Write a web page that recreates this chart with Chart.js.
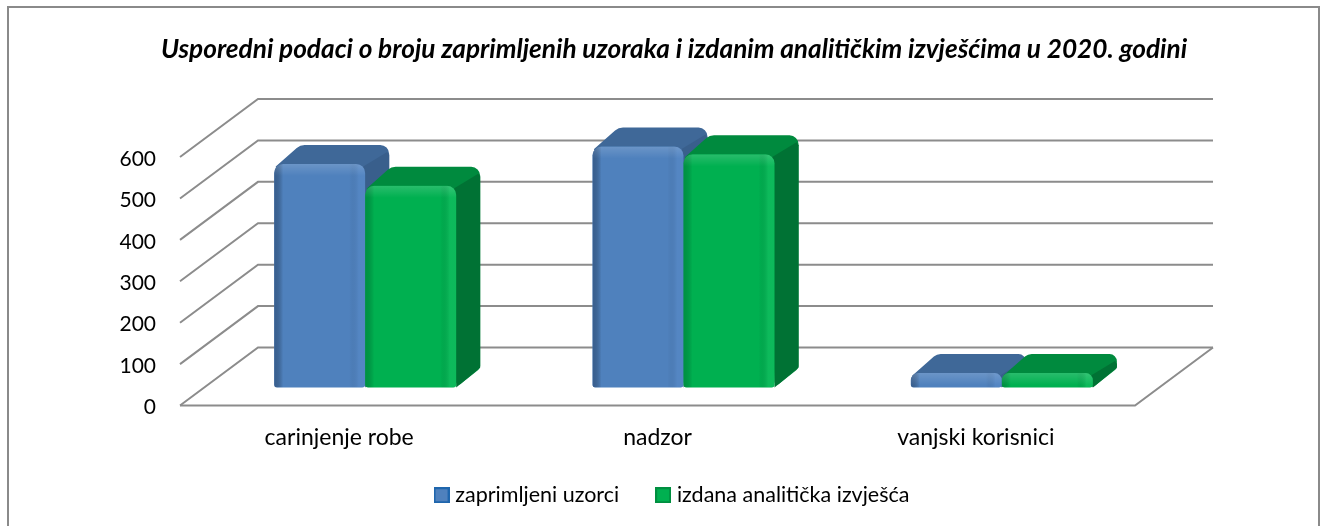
<!DOCTYPE html>
<html lang="hr">
<head>
<meta charset="utf-8">
<title>Usporedni podaci</title>
<script src="https://cdn.jsdelivr.net/npm/chart.js@4/dist/chart.umd.min.js"></script>
<style>
html,body{margin:0;padding:0;background:#fff;overflow:hidden;width:1328px;height:526px}
#frame{position:absolute;left:7px;top:6px;width:1313px;height:600px;border:2px solid #8a8a8a;box-sizing:border-box}
#wrap{position:absolute;left:0;top:0;width:1328px;height:526px;overflow:hidden}
</style>
</head>
<body>
<div id="frame"></div>
<div id="wrap"><canvas id="c" width="1328" height="516"></canvas></div>
<script>
const titleText = 'Usporedni podaci o broju zaprimljenih uzoraka i izdanim analitičkim izvješćima u 2020. godini';
const categories = ['carinjenje robe', 'nadzor', 'vanjski korisnici'];
const seriesNames = ['zaprimljeni uzorci', 'izdana analitička izvješća'];
const received = [540, 582, 35];
const issued = [487, 563, 35];
const yMax = 600;
const yStep = 100;

const FONT = 'Lato, sans-serif';
const GRID = '#8c8c8c';
const WALL = {dx: 78, dy: -58};
const BAR_SHIFT = {dx: 26, dy: -18};
const DEPTH = {dx: 24, dy: -19};
const SKINS = [
  {front: '#4f81bd', top: '#3f6898', side: '#395f8c', edgeL: 'rgba(40,70,110,.55)', edgeR: 'rgba(110,160,225,.16)', box: '#1f66ad'},
  {front: '#00b050', top: '#008a3e', side: '#007234', edgeL: 'rgba(0,90,40,.35)', edgeR: 'rgba(60,220,130,.22)', box: '#008f40'}
];

function legendBox(skin) {
  const c = document.createElement('canvas');
  c.width = 16; c.height = 16;
  const x = c.getContext('2d');
  x.fillStyle = skin.box; x.fillRect(0, 0, 16, 16);
  x.fillStyle = skin.front; x.fillRect(2, 2, 12, 12);
  return c;
}

// pts: [x, y, cornerRadius]
function poly(ctx, pts) {
  const n = pts.length;
  const a = pts[n - 1], b = pts[0];
  ctx.beginPath();
  ctx.moveTo((a[0] + b[0]) / 2, (a[1] + b[1]) / 2);
  for (let i = 0; i < n; i++) {
    const p = pts[i], q = pts[(i + 1) % n];
    ctx.arcTo(p[0], p[1], q[0], q[1], p[2]);
  }
  ctx.closePath();
}

function drawExtrusion(ctx, meta, skin) {
  meta.data.forEach(el => {
    const x1 = el.x - el.width / 2, x2 = el.x + el.width / 2;
    const t = el.y, b = el.base;
    const dx = DEPTH.dx, dy = DEPTH.dy;
    const rad = Math.min(9, (b - t) / 2);
    ctx.fillStyle = skin.top;
    poly(ctx, [[x1, t + 4, 1], [x1 + dx + 2, t + dy, rad + 3], [x2 + dx, t + dy, rad], [x2 + dx, b + dy, rad * .6], [x2, b, 3], [x2 - 6, t + 6, 1]]);
    ctx.fill();
    ctx.fillStyle = skin.side;
    ctx.beginPath();
    ctx.moveTo(x2 - 6, t + 5);
    ctx.lineTo(x2 + dx - 2, t + dy + 7);
    ctx.lineTo(x2 + dx, t + dy + 10);
    ctx.lineTo(x2 + dx, Math.max(b + dy - 1, t + dy + 10));
    ctx.lineTo(x2, b);
    ctx.closePath();
    ctx.fill();
  });
}

function drawShading(ctx, meta, skin) {
  meta.data.forEach(el => {
    const x1 = el.x - el.width / 2, x2 = el.x + el.width / 2;
    const t = el.y, b = el.base, h = b - t;
    const rad = Math.min(9, h / 2);
    ctx.save();
    ctx.beginPath();
    ctx.roundRect(x1, t, x2 - x1, h, [rad, rad, 3, 3]);
    ctx.clip();
    let g = ctx.createLinearGradient(x1, 0, x1 + 9, 0);
    g.addColorStop(0, skin.edgeL); g.addColorStop(1, 'rgba(0,0,0,0)');
    ctx.fillStyle = g; ctx.fillRect(x1, t, 9, h);
    g = ctx.createLinearGradient(x2 - 16, 0, x2, 0);
    g.addColorStop(0, 'rgba(0,0,0,0)'); g.addColorStop(.6, skin.edgeR); g.addColorStop(1, skin.edgeR);
    ctx.fillStyle = g; ctx.fillRect(x2 - 16, t, 16, h);
    g = ctx.createLinearGradient(0, t, 0, t + 12);
    g.addColorStop(0, 'rgba(255,255,255,.16)'); g.addColorStop(1, 'rgba(255,255,255,0)');
    ctx.fillStyle = g; ctx.fillRect(x1, t, x2 - x1, Math.min(12, h));
    ctx.restore();
  });
}

const depthPlugin = {
  id: 'depth',
  beforeDraw(chart) {
    const y = chart.scales.y, x = chart.scales.x;
    // The x labels reach below the axis box; do not clip them to it.
    x._computeLabelArea = () => undefined;
    // The y tick labels sit slightly below their grid lines in the reference.
    if (y._shifted) return;
    y._shifted = true;
    const orig = y.drawLabels;
    y.drawLabels = function (area) {
      this.ctx.save();
      this.ctx.translate(0, 2);
      orig.call(this, area);
      this.ctx.restore();
    };
  },
  beforeDatasetsDraw(chart) {
    const {ctx} = chart;
    const x = chart.scales.x, y = chart.scales.y;
    const l = x.left, r = x.right;
    ctx.save();
    ctx.strokeStyle = GRID;
    ctx.lineWidth = 2;
    y.ticks.forEach(t => {
      const py = y.getPixelForValue(t.value);
      ctx.beginPath();
      ctx.moveTo(l, py);
      ctx.lineTo(l + WALL.dx, py + WALL.dy);
      ctx.lineTo(r + WALL.dx, py + WALL.dy);
      ctx.stroke();
    });
    const p0 = y.getPixelForValue(0);
    ctx.beginPath();
    ctx.moveTo(l, p0);
    ctx.lineTo(r, p0);
    ctx.lineTo(r + WALL.dx, p0 + WALL.dy);
    ctx.stroke();
    ctx.restore();
  },
  // Series must be stacked blue first, green over it, so the library's
  // draw loop is replaced by one pass over both datasets here.
  beforeDatasetDraw(chart, args) {
    if (args.index !== 0) return false;
    const {ctx} = chart;
    ctx.save();
    ctx.translate(BAR_SHIFT.dx, BAR_SHIFT.dy);
    drawExtrusion(ctx, args.meta, SKINS[0]);
  },
  afterDatasetDraw(chart, args) {
    const {ctx} = chart;
    drawShading(ctx, args.meta, SKINS[0]);
    const m = chart.getDatasetMeta(1);
    drawExtrusion(ctx, m, SKINS[1]);
    m.controller.draw();
    drawShading(ctx, m, SKINS[1]);
    ctx.restore();
  }
};

new Chart(document.getElementById('c'), {
  type: 'bar',
  plugins: [depthPlugin],
  data: {
    labels: categories,
    datasets: [
      {label: seriesNames[0], data: received, backgroundColor: SKINS[0].front, borderWidth: 0, clip: false,
       borderRadius: {topLeft: 9, topRight: 9, bottomLeft: 3, bottomRight: 3}, borderSkipped: false},
      {label: seriesNames[1], data: issued, backgroundColor: SKINS[1].front, borderWidth: 0, clip: false,
       borderRadius: {topLeft: 9, topRight: 9, bottomLeft: 3, bottomRight: 3}, borderSkipped: false}
    ]
  },
  options: {
    responsive: false,
    animation: false,
    categoryPercentage: 0.572,
    barPercentage: 1,
    layout: {padding: {left: 20, right: 0, top: 0, bottom: 0}},
    plugins: {
      tooltip: {enabled: false},
      title: {
        display: true,
        text: titleText,
        color: '#000',
        font: {family: FONT, size: 26.2, weight: 'bold', style: 'italic', lineHeight: 1.2},
        padding: {top: 34, bottom: 91.6}
      },
      legend: {
        position: 'bottom',
        labels: {
          color: '#000',
          font: {family: FONT, size: 21.5},
          padding: 41,
          usePointStyle: true,
          pointStyleWidth: 6,
          boxHeight: 16,
          generateLabels(chart) {
            return chart.data.datasets.map((d, i) => ({
              text: d.label,
              datasetIndex: i,
              fontColor: '#000',
              pointStyle: legendBox(SKINS[i]),
              fillStyle: SKINS[i].front,
              strokeStyle: SKINS[i].box,
              lineWidth: 0
            }));
          }
        }
      }
    },
    scales: {
      x: {
        type: 'category',
        grid: {display: false, drawTicks: false},
        border: {display: false},
        ticks: {color: '#000', font: {family: FONT, size: 23}, padding: 18, maxRotation: 0},
        afterFit(s) { s.height = 38; }
      },
      y: {
        type: 'linear',
        min: 0,
        max: yMax,
        grid: {display: false, drawTicks: false},
        border: {display: false},
        ticks: {color: '#000', font: {family: FONT, size: 21}, padding: 24, stepSize: yStep},
        afterFit(s) { s.width = 160; }
      },
      spacer: {
        position: 'right',
        display: true,
        grid: {display: false, drawTicks: false},
        border: {display: false},
        ticks: {display: false},
        afterFit(s) { s.width = 193; }
      }
    }
  }
});
</script>
</body>
</html>
